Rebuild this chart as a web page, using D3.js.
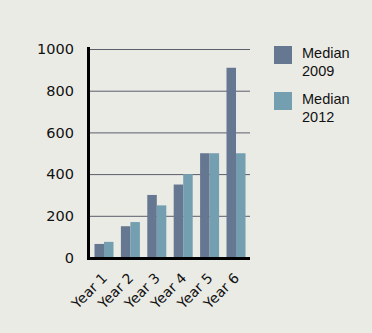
<!DOCTYPE html>
<html><head><meta charset="utf-8">
<script src="https://cdn.jsdelivr.net/npm/d3@7"></script>
<style>body{margin:0;background:#ebebe6;}svg{display:block;}</style>
</head><body>
<svg id="c" width="372" height="333"></svg>
<script>
const categories = ["Year 1","Year 2","Year 3","Year 4","Year 5","Year 6"];
const median2009 = [65, 150, 300, 350, 500, 910];
const median2012 = [75, 170, 250, 400, 500, 500];
const seriesNames = [["Median","2009"],["Median","2012"]];
const yTicks = [0,200,400,600,800,1000];
const colors = ["#667791","#739fb0"];

const svg = d3.select("#c");
svg.append("rect").attr("width",372).attr("height",333).attr("fill","#ebebe6");
const x = d3.scaleBand().domain(categories).range([90,250]).paddingInner(0.28).paddingOuter(0.17);
const y = d3.scaleLinear().domain([0,1000]).range([257.5,49]);
const xs = d3.scaleBand().domain([0,1]).range([0,x.bandwidth()]);

// gridlines
svg.append("g").selectAll("line").data(yTicks.filter(d=>d>0)).join("line")
  .attr("x1",88).attr("x2",250).attr("y1",d=>y(d)+0.5).attr("y2",d=>y(d)+0.5)
  .attr("stroke","#5a5e6b").attr("stroke-width",1);

const series = [median2009, median2012];
series.forEach((vals,si)=>{
  svg.append("g").selectAll("rect").data(vals).join("rect")
    .attr("x",(d,i)=>x(categories[i])+xs(si))
    .attr("width",xs.bandwidth())
    .attr("y",d=>y(d))
    .attr("height",d=>y(0)-y(d))
    .attr("fill",colors[si]);
});

// y axis
const ya = svg.append("g").attr("transform","translate(88,0)")
  .call(d3.axisLeft(y).tickValues(yTicks).tickFormat(d3.format("d")).tickSize(0).tickPadding(14));
ya.select(".domain").remove();
ya.selectAll("text").attr("font-family","DejaVu Sans").attr("font-size",14.5).attr("fill","#111");

// x axis
const xa = svg.append("g").attr("transform","translate(0,259)")
  .call(d3.axisBottom(x).tickSize(0).tickPadding(0));
xa.select(".domain").remove();
xa.selectAll("text").attr("font-family","DejaVu Sans").attr("font-size",14).attr("fill","#111")
  .attr("text-anchor","end").attr("dy",0).attr("y",0)
  .attr("transform","translate(4,20) rotate(-45)");

// axis lines
svg.append("line").attr("x1",88.5).attr("x2",88.5).attr("y1",47).attr("y2",260).attr("stroke","#000").attr("stroke-width",3);
svg.append("line").attr("x1",87).attr("x2",250).attr("y1",258.5).attr("y2",258.5).attr("stroke","#000").attr("stroke-width",3);

// legend
const lg = svg.append("g");
seriesNames.forEach((nm,i)=>{
  const oy = i*46;
  lg.append("rect").attr("x",274).attr("y",46+oy).attr("width",18).attr("height",18).attr("fill",colors[i]);
  lg.append("text").attr("x",302).attr("y",57.5+oy).text(nm[0])
    .attr("font-family","Liberation Sans").attr("font-size",14.5).attr("fill","#111");
  lg.append("text").attr("x",302).attr("y",75.5+oy).text(nm[1])
    .attr("font-family","Liberation Sans").attr("font-size",14.5).attr("fill","#111");
});
</script>
</body></html>
